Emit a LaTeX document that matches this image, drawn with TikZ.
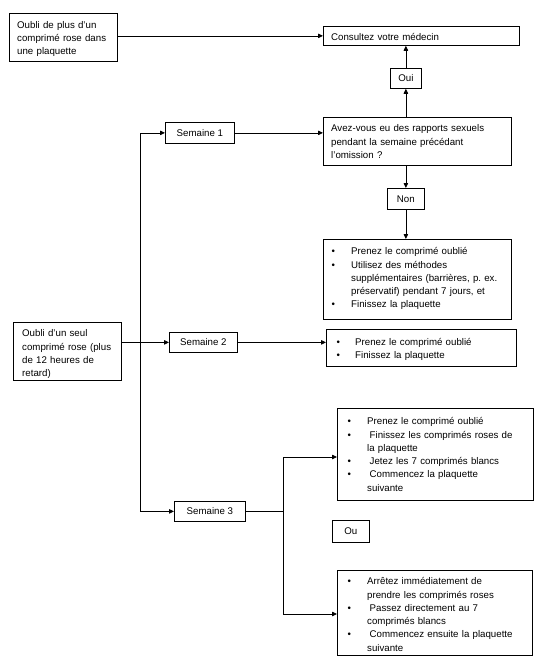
\documentclass[tikz,border=0pt]{standalone}
\usepackage{fontspec}
\setmainfont{Liberation Sans}
\usetikzlibrary{arrows.meta}
\begin{document}
\begin{tikzpicture}[x=1pt,y=-1pt,
  box/.style={draw, line width=0.75pt, inner sep=0pt, anchor=north west, font=\fontsize{9.7}{13.3}\selectfont},
  txt/.style={inner sep=0pt, anchor=north west, text width=200pt, align=left, yshift=9.31pt, font=\fontsize{9.7}{13.3}\selectfont\setlength{\parskip}{0pt}},
  bul/.style={txt, text width=10pt},
  arr/.style={line width=0.75pt, -{Triangle[length=5pt,width=4.5pt]}},
  con/.style={line width=0.75pt}]
\useasboundingbox (0,0) rectangle (540,665);
% boxes
\node[box, minimum width=108pt, minimum height=48pt] (A) at (9,13) {};
\node[box, minimum width=196pt, minimum height=19pt] (B) at (323,26) {};
\node[box, minimum width=31pt, minimum height=20pt] (oui) at (390,68) {Oui};
\node[box, minimum width=188pt, minimum height=48pt] (Q) at (323,117) {};
\node[box, minimum width=69pt, minimum height=21pt] (S1) at (165,122) {Semaine 1};
\node[box, minimum width=37pt, minimum height=21pt] (non) at (387,188) {Non};
\node[box, minimum width=188pt, minimum height=80pt] (R1) at (323,239) {};
\node[box, minimum width=108pt, minimum height=58pt] (C) at (13,322) {};
\node[box, minimum width=68pt, minimum height=20pt] (S2) at (169,332) {Semaine 2};
\node[box, minimum width=190pt, minimum height=37pt] (R2) at (326,329) {};
\node[box, minimum width=196pt, minimum height=92pt] (R3) at (337,408) {};
\node[box, minimum width=71pt, minimum height=20pt] (S3) at (174,501) {Semaine 3};
\node[box, minimum width=37pt, minimum height=22pt] (ou) at (332,520) {Ou};
\node[box, minimum width=195pt, minimum height=85pt] (R4) at (337,570) {};
% texts
\node[txt] (tA) at (17,28) {\strut Oubli de plus d’un\\comprimé rose dans\\une plaquette};
\node[txt] (tB) at (331,40) {\strut Consultez votre médecin};
\node[txt] (tQ) at (331,131.5) {\strut Avez-vous eu des rapports sexuels\\pendant la semaine précédant\\l’omission ?};
\node[bul] (b1) at (331.3,254.5) {\strut •\\\strut •\\\strut\\\strut\\\strut •};
\node[txt] (t1) at (351,254.5) {\strut Prenez le comprimé oublié\\Utilisez des méthodes\\supplémentaires (barrières, p.\ ex.\\préservatif) pendant 7 jours, et\\Finissez la plaquette};
\node[txt] (tC) at (22,336.5) {\strut Oubli d’un seul\\comprimé rose (plus\\de 12 heures de\\retard)};
\node[bul] (b2) at (336.3,345.2) {\strut •\\\strut •};
\node[txt] (t2) at (355,345.2) {\strut Prenez le comprimé oublié\\Finissez la plaquette};
\node[bul] (b3) at (347.3,424.5) {\strut •\\\strut •\\\strut\\\strut •\\\strut •};
\node[txt] (t3) at (367,424.5) {\strut Prenez le comprimé oublié\\\hspace*{2.5pt}Finissez les comprimés roses de\\la plaquette\\\hspace*{2.5pt}Jetez les 7 comprimés blancs\\\hspace*{2.5pt}Commencez la plaquette\\suivante};
\node[bul] (b4) at (347.3,584.5) {\strut •\\\strut\\\strut •\\\strut\\\strut •};
\node[txt] (t4) at (367,584.5) {\strut Arrêtez immédiatement de\\prendre les comprimés roses\\\hspace*{2.5pt}Passez directement au 7\\comprimés blancs\\\hspace*{2.5pt}Commencez ensuite la plaquette\\suivante};
% junctions
\coordinate (tr) at (140,0);
\coordinate (j3) at (283,457);
\coordinate (j4) at (283,614);
% connectors
\draw[arr] (A.east |- B.west) -- (B.west);
\draw[arr] (oui.south |- Q.north) -- (oui.south);
\draw[arr] (oui.north) -- (oui.north |- B.south);
\draw[arr] (S1.east) -- (S1.east -| Q.west);
\draw[arr] (non.north |- Q.south) -- (non.north);
\draw[arr] (non.south) -- (non.south |- R1.north);
\draw[con] (tr |- S3.west) -- (tr |- S1.west);
\draw[arr] (tr |- S1.west) -- (S1.west);
\draw[arr] (tr |- S3.west) -- (S3.west);
\draw[arr] (C.east |- S2.west) -- (S2.west);
\draw[arr] (S2.east) -- (S2.east -| R2.west);
\draw[con] (S3.east) -- (S3.east -| j3);
\draw[con] (j3) -- (j4);
\draw[arr] (j3) -- (j3 -| R3.west);
\draw[arr] (j4) -- (j4 -| R4.west);
\end{tikzpicture}
\end{document}
